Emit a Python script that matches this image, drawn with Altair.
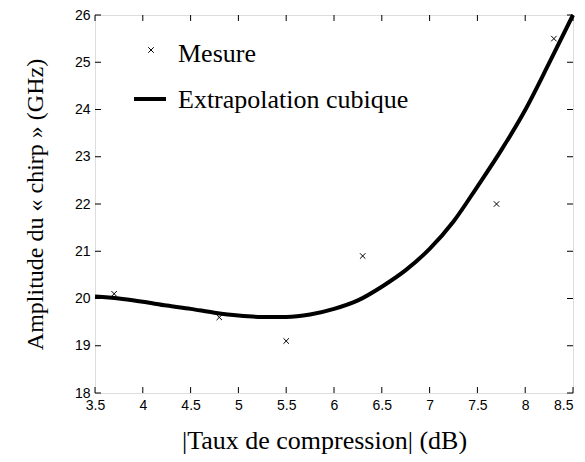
import altair as alt
import pandas as pd

# ---- data ----
x_ticks = [3.5, 4, 4.5, 5, 5.5, 6, 6.5, 7, 7.5, 8, 8.5]
y_ticks = [18, 19, 20, 21, 22, 23, 24, 25, 26]

meas_x = [3.7, 4.8, 5.5, 6.3, 7.7, 8.3]
meas_y = [20.1, 19.6, 19.1, 20.9, 22.0, 25.5]

fit_x = [3.5, 3.75, 4.0, 4.25, 4.5, 4.75, 5.0, 5.25, 5.5, 5.75, 6.0,
         6.25, 6.5, 6.75, 7.0, 7.25, 7.5, 7.75, 8.0, 8.25, 8.5]
fit_y = [20.04, 20.0, 19.93, 19.85, 19.78, 19.70, 19.64, 19.61, 19.61, 19.66, 19.78,
         19.96, 20.25, 20.6, 21.05, 21.63, 22.37, 23.14, 23.99, 24.98, 26.0]

legend_labels = ["Mesure", "Extrapolation cubique"]
x_title = "|Taux de compression| (dB)"
y_title = "Amplitude du « chirp » (GHz)"

W, H = 478, 378
TICK = 6

meas = pd.DataFrame({"x": meas_x, "y": meas_y})
fit = pd.DataFrame({"x": fit_x, "y": fit_y})
xt = pd.DataFrame({"v": x_ticks})
yt = pd.DataFrame({"v": y_ticks})

xscale = alt.Scale(domain=[3.5, 8.5], nice=False, zero=False)
yscale = alt.Scale(domain=[18, 26], nice=False, zero=False)

xaxis = alt.Axis(values=x_ticks, format="~g", title=x_title, tickSize=0, domain=False,
                 grid=False, labelFont="Liberation Sans", labelFontSize=14, labelColor="black",
                 labelPadding=5, labelFlush=False,
                 labelAlign=alt.ExprRef(expr="datum.value >= 8.5 ? 'right' : 'center'"),
                 titleFont="Liberation Serif", titleFontSize=26, titleFontWeight="normal",
                 titleColor="black", titleX=229, titleY=55, titleBaseline="alphabetic",
                 titleAlign="center")
yaxis = alt.Axis(values=y_ticks, format="~g", title=y_title, tickSize=0, domain=False,
                 grid=False, labelFont="Liberation Sans", labelFontSize=14, labelColor="black",
                 labelPadding=5, labelFlush=False,
                 titleFont="Liberation Serif", titleFontSize=24, titleFontWeight="normal",
                 titleColor="black", titleX=-53, titleY=189, titleAngle=-90,
                 titleBaseline="alphabetic", titleAlign="center")

X = lambda f: alt.X(f, type="quantitative", scale=xscale, axis=xaxis)
Y = lambda f: alt.Y(f, type="quantitative", scale=yscale, axis=yaxis)

cross = "M-1,-1L1,1M-1,1L1,-1"

curve = alt.Chart(fit).mark_line(color="black", strokeWidth=4, interpolate="monotone").encode(
    x=X("x"), y=Y("y"))
pts = alt.Chart(meas).mark_point(shape=cross, size=30, filled=False, color="black",
                                 strokeWidth=1, opacity=1).encode(x=X("x"), y=Y("y"))

bt = alt.Chart(xt).mark_rule(color="black", strokeWidth=1).encode(
    x=X("v"), y=alt.value(H), y2=alt.value(H - TICK))
tt = alt.Chart(xt).mark_rule(color="black", strokeWidth=1).encode(
    x=X("v"), y=alt.value(0), y2=alt.value(TICK))
lt = alt.Chart(yt).mark_rule(color="black", strokeWidth=1).encode(
    y=Y("v"), x=alt.value(0), x2=alt.value(TICK))
rt = alt.Chart(yt).mark_rule(color="black", strokeWidth=1).encode(
    y=Y("v"), x=alt.value(W), x2=alt.value(W - TICK))

leg_pt = alt.Chart(meas.head(1)).mark_point(shape=cross, size=30, filled=False, color="black",
                                            strokeWidth=1, opacity=1).encode(
    x=alt.value(56), y=alt.value(35))
leg_t1 = alt.Chart(meas.head(1)).mark_text(align="left", baseline="alphabetic",
                                           font="Liberation Serif", fontSize=26,
                                           color="black").encode(
    x=alt.value(83), y=alt.value(47), text=alt.value(legend_labels[0]))
leg_ln = alt.Chart(meas.head(1)).mark_rule(color="black", strokeWidth=4).encode(
    x=alt.value(39), x2=alt.value(71), y=alt.value(84))
leg_t2 = alt.Chart(meas.head(1)).mark_text(align="left", baseline="alphabetic",
                                           font="Liberation Serif", fontSize=26,
                                           color="black").encode(
    x=alt.value(83), y=alt.value(93), text=alt.value(legend_labels[1]))

chart = alt.layer(curve, pts, bt, tt, lt, rt, leg_pt, leg_t1, leg_ln, leg_t2).properties(
    width=W, height=H,
    autosize=alt.AutoSizeParams(type="none"),
    padding={"left": 87, "top": 7, "right": 4, "bottom": 61},
).configure_view(stroke="black", strokeWidth=1.5).configure(background="white")

chart.save("out.html", embed_options={"renderer": "svg", "actions": False})
